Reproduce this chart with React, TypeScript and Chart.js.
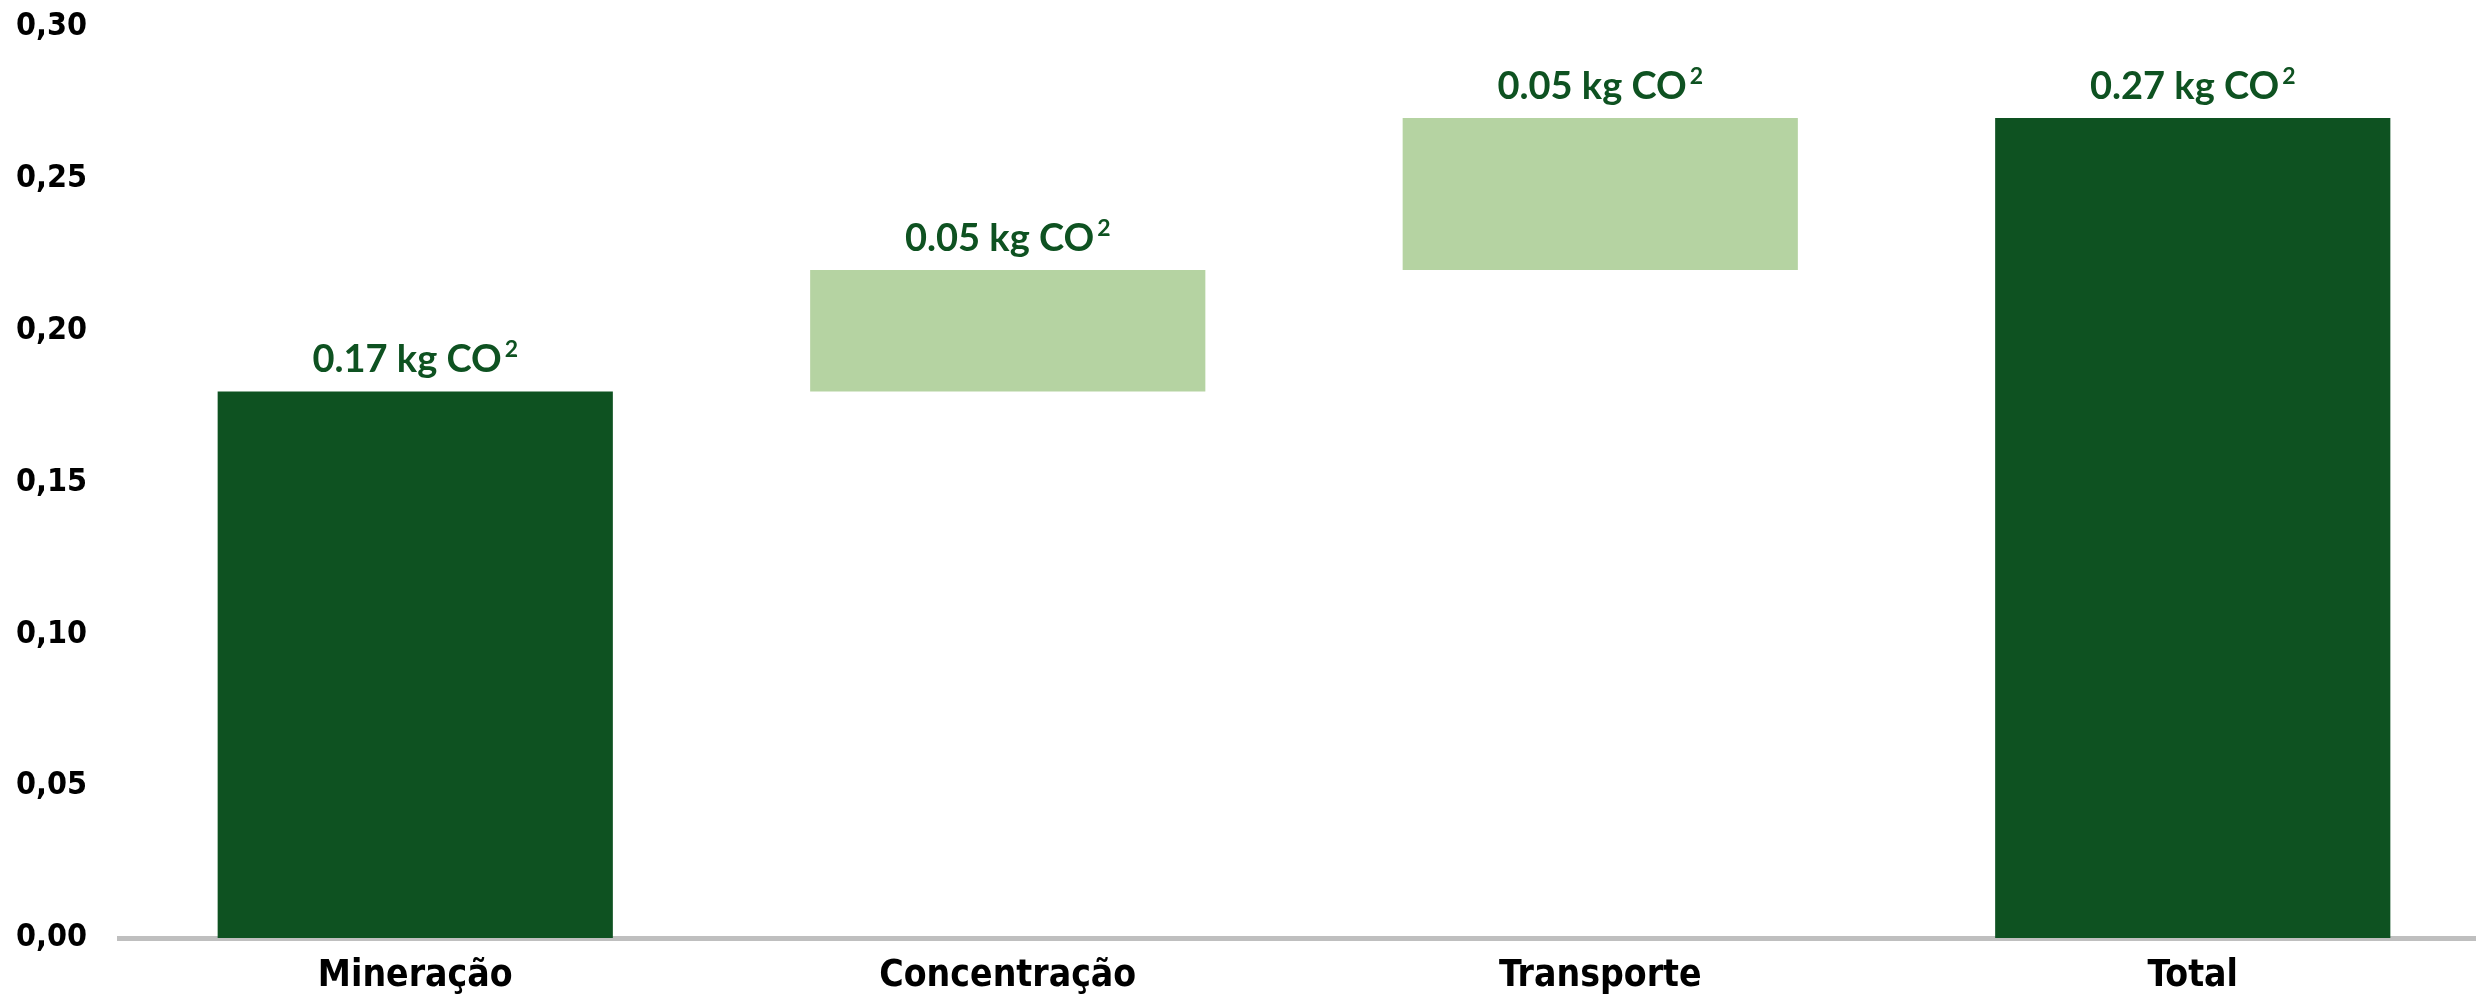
import { useEffect, useRef } from 'react';
import Chart from 'chart.js/auto';

// Waterfall steps (kg CO2 per unit)
const categories = ['Mineração', 'Concentração', 'Transporte', 'Total'];
const barStart = [0, 0.18, 0.22, 0];
const barEnd = [0.18, 0.22, 0.27, 0.27];
const valueLabels = ['0.17', '0.05', '0.05', '0.27'];
const unitLabel = 'kg CO';
const unitSup = '2';
const yTicks = [0, 0.05, 0.1, 0.15, 0.2, 0.25, 0.3];

const DARK = '#0e5221';
const LIGHT = '#b5d3a2';
const barColors = [DARK, LIGHT, LIGHT, DARK];
const AXIS_FONT = '"DejaVu Sans Condensed", "Liberation Sans Narrow", "DejaVu Sans", sans-serif';
const LABEL_FONT = 'Lato, "Open Sans", sans-serif';

const valueLabelPlugin = {
  id: 'valueLabels',
  afterDatasetsDraw(chart: any) {
    const ctx = chart.ctx;
    const meta = chart.getDatasetMeta(0);
    ctx.save();
    ctx.fillStyle = DARK;
    ctx.textBaseline = 'alphabetic';
    ctx.textAlign = 'left';
    meta.data.forEach((bar: any, i: number) => {
      const main = `${valueLabels[i]} ${unitLabel}`;
      ctx.font = `bold 38px ${LABEL_FONT}`;
      const mw = ctx.measureText(main).width;
      ctx.font = `bold 23px ${LABEL_FONT}`;
      const sw = ctx.measureText(unitSup).width;
      const top = Math.min(bar.y, bar.base);
      const x0 = bar.x - (mw + sw + 3) / 2;
      const y0 = top - 19;
      ctx.font = `bold 38px ${LABEL_FONT}`;
      ctx.fillText(main, x0, y0);
      ctx.font = `bold 23px ${LABEL_FONT}`;
      ctx.fillText(unitSup, x0 + mw + 3, y0 - 15);
    });
    ctx.restore();
  },
};

const App = () => {
  const canvasRef = useRef<HTMLCanvasElement>(null);
  const chartRef = useRef<Chart | null>(null);

  useEffect(() => {
    document.body.style.margin = '0';
    if (!canvasRef.current) return;
    if (chartRef.current) chartRef.current.destroy();

    chartRef.current = new Chart(canvasRef.current, {
      type: 'bar',
      data: {
        labels: categories,
        datasets: [
          {
            data: categories.map((_, i) => [barStart[i], barEnd[i]]) as any,
            backgroundColor: barColors,
            borderWidth: 0,
            categoryPercentage: 1,
            barPercentage: 0.667,
          },
        ],
      },
      options: {
        animation: false,
        responsive: true,
        maintainAspectRatio: false,
        devicePixelRatio: 1,
        layout: { padding: { top: 27, left: 0, right: 0, bottom: 0 } },
        plugins: {
          legend: { display: false },
          tooltip: { enabled: false },
        },
        scales: {
          x: {
            z: 1,
            grid: { display: false, drawTicks: false },
            border: { display: true, color: '#bfbfbf', width: 5 },
            ticks: {
              color: '#000',
              padding: 16,
              font: { family: AXIS_FONT, size: 37, weight: 'bold' },
            },
            afterFit: (scale: any) => {
              scale.height = 58;
              scale.paddingLeft = 0;
              scale.paddingRight = 0;
            },
          },
          y: {
            min: 0,
            max: 0.3,
            grid: { display: false, drawTicks: false },
            border: { display: false },
            ticks: {
              color: '#000',
              padding: 32,
              font: { family: AXIS_FONT, size: 32, weight: 'bold' },
              callback: (v: any) => Number(v).toFixed(2).replace('.', ','),
            },
            afterBuildTicks: (scale: any) => {
              scale.ticks = yTicks.map((v) => ({ value: v }));
            },
            afterFit: (scale: any) => {
              scale.width = 119;
              scale.paddingTop = 0;
              scale.paddingBottom = 0;
            },
          },
        },
      },
      plugins: [valueLabelPlugin],
    });

    return () => {
      if (chartRef.current) {
        chartRef.current.destroy();
        chartRef.current = null;
      }
    };
  }, []);

  return (
    <div style={{ width: 2476, height: 996, overflow: 'hidden', background: '#fff' }}>
      <div style={{ width: 2489, height: 996, position: 'relative' }}>
        <canvas ref={canvasRef} />
      </div>
    </div>
  );
};

export default App;
